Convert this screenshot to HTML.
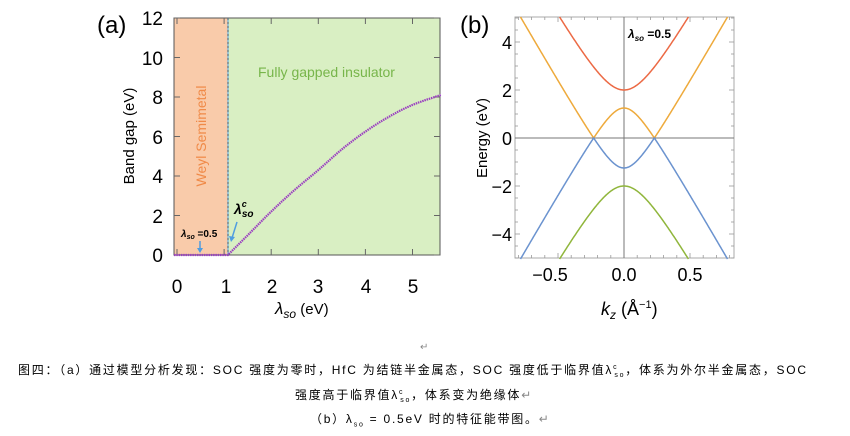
<!DOCTYPE html>
<html><head><meta charset="utf-8"><style>
body{margin:0;background:#fff;width:850px;height:436px;overflow:hidden}
svg{position:absolute;left:0;top:0}
text{font-family:"Liberation Sans",sans-serif}
.cap{position:absolute;font-family:"Liberation Sans","Noto Sans CJK SC",sans-serif;font-size:12px;letter-spacing:1.75px;color:#000;white-space:nowrap}
</style></head><body>
<svg width="850" height="436" id="s">
<rect x="174" y="18" width="54" height="237" fill="#f9cbaa"/>
<rect x="228" y="18" width="212" height="237" fill="#d9efc3"/>
<rect x="174" y="18" width="266" height="237" fill="none" stroke="#555" stroke-width="1"/>
<line x1="228" y1="18" x2="228" y2="255" stroke="#6aaee0" stroke-width="1.2"/>
<line x1="228" y1="18" x2="228" y2="255" stroke="#333" stroke-width="0.6" stroke-dasharray="2,2"/>
<g id="ta" stroke="#666" stroke-width="1"></g>
<g font-size="19" fill="#000" text-anchor="end">
<text x="163" y="262">0</text><text x="163" y="223">2</text><text x="163" y="183">4</text><text x="163" y="144">6</text><text x="163" y="104">8</text><text x="163" y="65">10</text><text x="163" y="25">12</text>
</g>
<g font-size="19" fill="#000" text-anchor="middle">
<text x="177" y="293">0</text><text x="226" y="293">1</text><text x="272" y="293">2</text><text x="318" y="293">3</text><text x="366" y="293">4</text><text x="413" y="293">5</text>
</g>
<text x="97" y="33" font-size="24">(a)</text>
<text transform="translate(134,136) rotate(-90)" text-anchor="middle" font-size="15">Band gap (eV)</text>
<text x="275" y="314" font-size="17" font-family="Liberation Serif" font-style="italic">λ<tspan font-size="12" dy="4">so</tspan><tspan dy="-4" font-style="normal" font-family="Liberation Sans" font-size="15">  (eV)</tspan></text>
<text x="258" y="77" font-size="14" fill="#77b54a">Fully gapped insulator</text>
<text transform="translate(206,136) rotate(-90)" text-anchor="middle" font-size="14" fill="#f08a48">Weyl Semimetal</text>
<path id="cv" fill="none" stroke="#9a3fc0" stroke-width="2.2" stroke-dasharray="1.5,0.8"/>
<text x="181" y="237" font-size="10" font-weight="bold" font-family="Liberation Serif"><tspan font-style="italic">λ</tspan><tspan font-size="7" dy="2" font-style="italic">so</tspan><tspan dy="-2"> =0.5</tspan></text>
<line x1="200" y1="241" x2="200" y2="251" stroke="#4f9de0" stroke-width="1.5"/><path d="M197,248 L200,253 L203,248Z" fill="#4f9de0"/>
<text x="234" y="214" font-size="14" font-weight="bold" font-style="italic" font-family="Liberation Serif">λ<tspan font-size="9" dy="-7">c</tspan><tspan font-size="10" dx="-5" dy="10">so</tspan></text>
<line x1="237" y1="222" x2="232" y2="238" stroke="#4f9de0" stroke-width="1.5"/><path d="M229,236 L231,242 L235,237Z" fill="#4f9de0"/>
<rect x="515" y="17" width="219" height="241" fill="none" stroke="#aaa" stroke-width="1"/>
<g id="tb" stroke="#999" stroke-width="0.8"></g>
<line x1="624" y1="17" x2="624" y2="258" stroke="#777" stroke-width="1"/>
<line x1="515" y1="138" x2="734" y2="138" stroke="#777" stroke-width="1"/>
<g id="bands" fill="none" stroke-width="1.5"></g>
<g font-size="18" fill="#000" text-anchor="end">
<text x="512" y="49">4</text><text x="512" y="97">2</text><text x="512" y="145">0</text><text x="512" y="193">−2</text><text x="512" y="241">−4</text>
</g>
<g font-size="18" fill="#000" text-anchor="middle">
<text x="550" y="281">−0.5</text><text x="624" y="281">0.0</text><text x="690" y="281">0.5</text>
</g>
<text x="460" y="33" font-size="24">(b)</text>
<text transform="translate(487,138) rotate(-90)" text-anchor="middle" font-size="15">Energy (eV)</text>
<text x="601" y="315" font-size="18" font-family="Liberation Serif"><tspan font-style="italic">k</tspan><tspan font-size="12" font-style="italic" dy="4">z</tspan><tspan dy="-4"> (Å</tspan><tspan font-size="11" dy="-7">−1</tspan><tspan dy="7">)</tspan></text>
<text x="628" y="38" font-size="12" font-weight="bold" font-family="Liberation Serif"><tspan font-style="italic">λ</tspan><tspan font-size="8" dy="3" font-style="italic">so</tspan><tspan dy="-3"> =0.5</tspan></text>
<text x="420" y="350" font-size="10" fill="#888">↵</text>
</svg>
<div class="cap" style="left:18px;top:361px">图四：（a）通过模型分析发现：SOC 强度为零时，HfC 为结链半金属态，SOC 强度低于临界值λ<sup style="font-size:7px">c</sup><sub style="font-size:7px;margin-left:-4px">so</sub>，体系为外尔半金属态，SOC</div>
<div class="cap" style="left:295px;top:386px">强度高于临界值λ<sup style="font-size:7px">c</sup><sub style="font-size:7px;margin-left:-4px">so</sub>，体系变为绝缘体<span style="color:#888">↵</span></div>
<div class="cap" style="left:310px;top:410px">（b）λ<sub style="font-size:7px">so</sub> = 0.5eV 时的特征能带图。<span style="color:#888">↵</span></div>
<script>
var ns="http://www.w3.org/2000/svg";
function ln(g,x1,y1,x2,y2){var l=document.createElementNS(ns,"line");l.setAttribute("x1",x1);l.setAttribute("y1",y1);l.setAttribute("x2",x2);l.setAttribute("y2",y2);g.appendChild(l);}
var ta=document.getElementById("ta");
for(var i=0;i<=5;i++){var x=177+47.1*i;ln(ta,x,255,x,249);ln(ta,x,18,x,24);}
for(var j=0;j<=12;j+=2){var y=255-19.75*j;ln(ta,174,y,180,y);ln(ta,440,y,434,y);}
var pts=[[1.08,0],[1.5,1],[2,2.2],[2.5,3.3],[3,4.3],[3.5,5.35],[4,6.25],[4.5,7.0],[5,7.6],[5.6,8.1]];
var d="M174,255 L228,255";
function X(l){return 177+47.1*l}function Y(g){return 255-19.75*g}
for(var k=0;k<pts.length-1;k++){var p0=pts[Math.max(0,k-1)],p1=pts[k],p2=pts[k+1],p3=pts[Math.min(pts.length-1,k+2)];
for(var t=0.1;t<=1.001;t+=0.1){var t2=t*t,t3=t2*t;
var lx=0.5*((2*p1[0])+(-p0[0]+p2[0])*t+(2*p0[0]-5*p1[0]+4*p2[0]-p3[0])*t2+(-p0[0]+3*p1[0]-3*p2[0]+p3[0])*t3);
var ly=0.5*((2*p1[1])+(-p0[1]+p2[1])*t+(2*p0[1]-5*p1[1]+4*p2[1]-p3[1])*t2+(-p0[1]+3*p1[1]-3*p2[1]+p3[1])*t3);
d+=" L"+X(lx).toFixed(1)+","+Y(ly).toFixed(1);}}
document.getElementById("cv").setAttribute("d",d);
var tb=document.getElementById("tb");
for(var kk=-0.8;kk<=0.81;kk+=0.1){var x=624+132*kk;if(x<515||x>734)continue;ln(tb,x,258,x,Math.abs(Math.round(kk*10))%5==0?253:255);ln(tb,x,17,x,Math.abs(Math.round(kk*10))%5==0?22:20);}
for(var e=-5;e<=5;e+=0.5){var y=138-24*e;ln(tb,515,y,Math.round(e)==e&&e%2==0?520:518,y);ln(tb,734,y,Math.round(e)==e&&e%2==0?729:731,y);}
var bg=document.getElementById("bands");
function band(f,c){var s="";var first=true;for(var k=-0.83;k<=0.83;k+=0.002){var E=f(k);if(E>5.05||E<-5.05){first=true;continue;}s+=(first?"M":"L")+(624+132*k).toFixed(1)+","+(138-24*E).toFixed(1);first=false;}
var p=document.createElementNS(ns,"path");p.setAttribute("d",s);p.setAttribute("stroke",c);bg.appendChild(p);}
var v=9.54,p=1.3,q=2.55;
band(function(k){return Math.sqrt(4+90*k*k)},"#ec6a45");
band(function(k){return Math.abs(Math.sqrt(p*p+v*v*k*k)-q)},"#eeaa3c");
band(function(k){return -Math.abs(Math.sqrt(p*p+v*v*k*k)-q)},"#6b93cf");
band(function(k){return -Math.sqrt(4+90*k*k)},"#90b63c");
</script>
</body></html>
